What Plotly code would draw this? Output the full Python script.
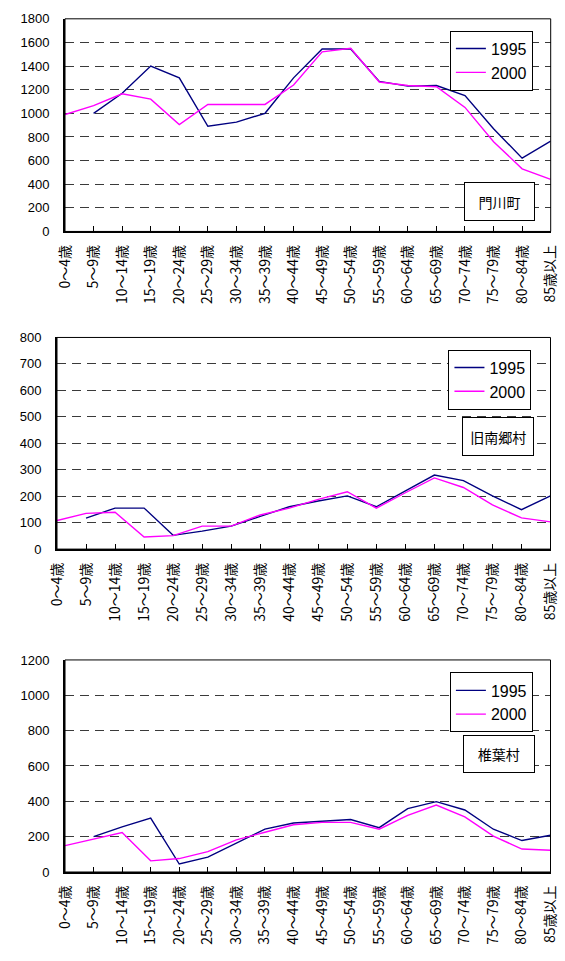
import plotly.graph_objects as go
from plotly.subplots import make_subplots

ages = ["0～4歳", "5～9歳", "10～14歳", "15～19歳", "20～24歳", "25～29歳", "30～34歳",
        "35～39歳", "40～44歳", "45～49歳", "50～54歳", "55～59歳", "60～64歳", "65～69歳",
        "70～74歳", "75～79歳", "80～84歳", "85歳以上"]

kadogawa_1995 = [None, 1000, 1170, 1400, 1300, 890, 925, 1000, 1300, 1545, 1545, 1270, 1230, 1235, 1150, 870, 620, 765]
kadogawa_2000 = [990, 1065, 1165, 1120, 905, 1075, 1075, 1075, 1240, 1520, 1550, 1265, 1235, 1225, 1050, 760, 530, 440]

minamigo_1995 = [None, 117, 155, 155, 52, 68, 87, 124, 160, 182, 201, 160, 219, 280, 259, 201, 149, 201]
minamigo_2000 = [108, 135, 139, 46, 51, 87, 87, 129, 155, 188, 217, 155, 213, 269, 233, 167, 118, 103]

shiiba_1995 = [None, 200, 255, 305, 45, 84, 165, 243, 277, 286, 297, 251, 359, 398, 351, 242, 178, 208]
shiiba_2000 = [149, 188, 223, 63, 76, 115, 182, 225, 267, 281, 281, 242, 320, 379, 312, 203, 130, 123]

years = ["1995", "2000"]
panel_names = ["門川町", "旧南郷村", "椎葉村"]
y_max = [1800, 800, 1200]
y_step = [200, 100, 200]

W, H = 565, 961
C1995 = "#000080"
C2000 = "#FF00FF"

fig = make_subplots(rows=3, cols=1)

series = [(kadogawa_1995, kadogawa_2000), (minamigo_1995, minamigo_2000), (shiiba_1995, shiiba_2000)]
legend_ids = ["legend", "legend2", "legend3"]
for i, (s95, s00) in enumerate(series):
    fig.add_trace(go.Scatter(x=ages, y=s95, mode="lines", name=years[0],
                             line=dict(color=C1995, width=1.4), legend=legend_ids[i],
                             connectgaps=False), row=i + 1, col=1)
    fig.add_trace(go.Scatter(x=ages, y=s00, mode="lines", name=years[1],
                             line=dict(color=C2000, width=1.4), legend=legend_ids[i]),
                  row=i + 1, col=1)

# pixel geometry of each plot area: (left, right, top, bottom)
boxes = [(56, 559.5, 12, 228), (47.7, 559.3, 335.7, 550.7), (56, 559.3, 663.3, 878.7)]
legend_pos = [(455, 24), (453.5, 348), (455, 676)]
label_box = [(470.7, 541.7, 178, 217), (468.3, 540.7, 416.7, 455.7), (470.3, 542, 740, 778.3)]

for i, (l, r, t, b) in enumerate(boxes):
    n = i + 1
    xa = "xaxis" if n == 1 else f"xaxis{n}"
    ya = "yaxis" if n == 1 else f"yaxis{n}"
    fig.layout[xa].update(
        domain=[l / W, r / W], type="category", categoryorder="array", categoryarray=ages,
        range=[0, len(ages) - 1], showline=True, linecolor="black", linewidth=2,
        ticks="inside", ticklen=5, tickcolor="black", tickwidth=1,
        tickangle=-90, showgrid=False, zeroline=False,
        tickfont=dict(family="Noto Sans CJK JP", size=14, color="black"),
        ticklabelstandoff=6,
    )
    fig.layout[ya].update(
        domain=[1 - b / H, 1 - t / H], range=[0, y_max[i]], dtick=y_step[i], tick0=0,
        showline=True, linecolor="black", linewidth=2, ticks="",
        showgrid=True, gridcolor="#3a3a3a", gridwidth=1, griddash="9px,6px",
        zeroline=False, tickfont=dict(family="Liberation Sans", size=13, color="black"),
        ticklabelstandoff=11,
    )
    xref = "x domain" if n == 1 else f"x{n} domain"
    yref = "y domain" if n == 1 else f"y{n} domain"
    fig.add_shape(type="rect", xref=xref, yref=yref, x0=0, x1=1, y0=0, y1=1,
                  line=dict(color="black", width=1), fillcolor="rgba(0,0,0,0)", layer="above")
    lx0, lx1, ly0, ly1 = label_box[i]
    fig.add_annotation(xref=xref, yref=yref,
                       x=((lx0 + lx1) / 2 - l) / (r - l), y=(b - (ly0 + ly1) / 2) / (b - t),
                       xanchor="center", yanchor="middle", showarrow=False,
                       text=panel_names[i], font=dict(family="Noto Sans CJK JP", size=14, color="black"),
                       bordercolor="black", borderwidth=1, borderpad=0,
                       bgcolor="white", width=lx1 - lx0 - 2, height=ly1 - ly0 - 2)
    lgx, lgy = legend_pos[i]
    fig.layout[legend_ids[i]] = dict(
        x=lgx / W, y=1 - lgy / H, xanchor="left", yanchor="top",
        bgcolor="white", bordercolor="black", borderwidth=1,
        font=dict(family="Liberation Sans", size=16, color="black"),
        tracegroupgap=0, itemwidth=30,
    )

fig.update_layout(width=W, height=H, margin=dict(l=0, r=0, t=0, b=0),
                  paper_bgcolor="white", plot_bgcolor="white", showlegend=True)

fig.write_html("out.html", config={"displayModeBar": False},
               post_script="document.body.style.margin='0';document.body.style.overflow='hidden';")
